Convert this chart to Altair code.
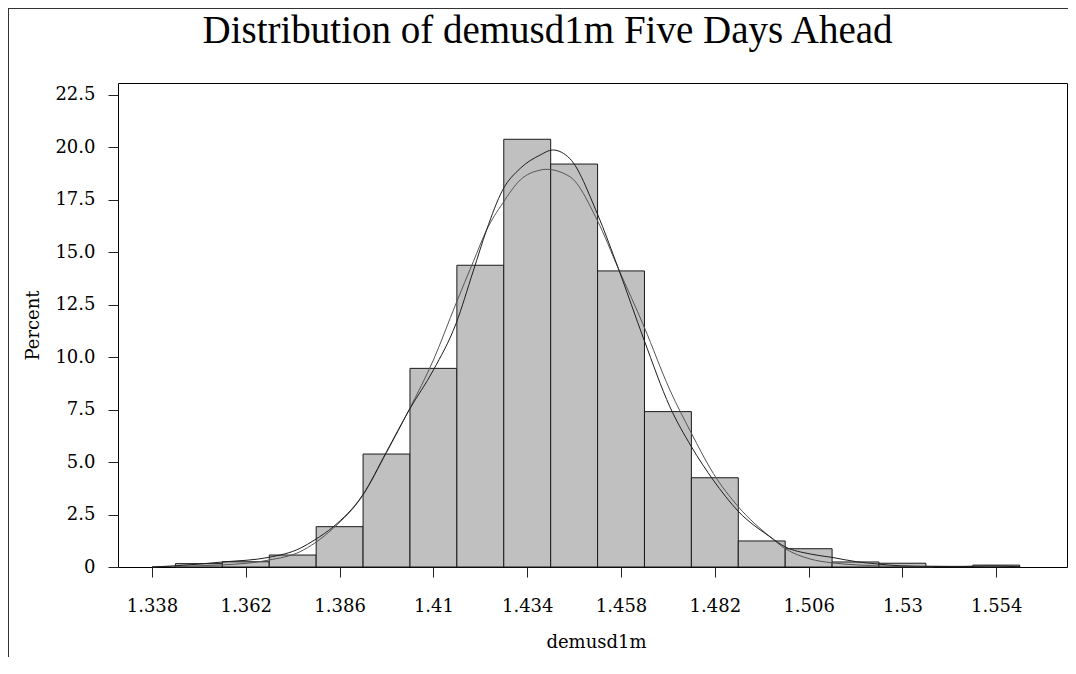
import altair as alt
import pandas as pd

# Histogram bins (demusd1m) and percent per bin
bin_lo = [1.344, 1.356, 1.368, 1.380, 1.392, 1.404, 1.416, 1.428, 1.440,
          1.452, 1.464, 1.476, 1.488, 1.500, 1.512, 1.524, 1.536, 1.548]
bin_hi = [1.356, 1.368, 1.380, 1.392, 1.404, 1.416, 1.428, 1.440, 1.452,
          1.464, 1.476, 1.488, 1.500, 1.512, 1.524, 1.536, 1.548, 1.560]
percent = [0.16, 0.25, 0.57, 1.92, 5.38, 9.46, 14.37, 20.37, 19.19,
           14.10, 7.40, 4.25, 1.24, 0.87, 0.24, 0.18, 0.03, 0.09]

# Kernel density curve (dark)
kde_x = [1.3380, 1.3434, 1.3562, 1.3679, 1.3759, 1.3797, 1.3844, 1.3919, 1.3980,
         1.4038, 1.4100, 1.4158, 1.4202, 1.4236, 1.4277, 1.4322, 1.4373, 1.4405,
         1.4449, 1.4519, 1.4573, 1.4639, 1.4705, 1.4760, 1.4816, 1.4880, 1.4961,
         1.4999, 1.5064, 1.5119, 1.5183, 1.5238, 1.5294, 1.5378, 1.5447, 1.5524, 1.5601]
kde_y = [0.00, 0.05, 0.24, 0.46, 0.89, 1.30, 1.92, 3.43, 5.49,
         7.48, 9.38, 11.60, 14.10, 16.05, 17.95, 18.98, 19.62, 19.86,
         19.45, 16.84, 14.22, 10.81, 7.63, 5.73, 4.14, 2.65, 1.44,
         0.97, 0.62, 0.46, 0.25, 0.14, 0.06, 0.03, 0.02, 0.05, 0.01]

# Normal curve (grey)
norm_x = [1.3380, 1.3434, 1.3562, 1.3679, 1.3759, 1.3797, 1.3844, 1.3919, 1.3980,
          1.4038, 1.4100, 1.4158, 1.4202, 1.4236, 1.4277, 1.4322, 1.4373, 1.4388,
          1.4449, 1.4519, 1.4573, 1.4639, 1.4705, 1.4760, 1.4816, 1.4880, 1.4961,
          1.4999, 1.5064, 1.5119, 1.5183, 1.5238, 1.5294, 1.5378]
norm_y = [0.01, 0.03, 0.10, 0.33, 0.73, 1.15, 1.85, 3.40, 5.45,
          7.50, 9.86, 12.56, 14.54, 16.05, 17.32, 18.43, 18.90, 18.94,
          18.59, 16.52, 14.22, 11.44, 8.43, 6.37, 4.46, 2.87, 1.44,
          0.89, 0.38, 0.20, 0.10, 0.05, 0.02, 0.01]

x_ticks = [1.338, 1.362, 1.386, 1.41, 1.434, 1.458, 1.482, 1.506, 1.53, 1.554]
y_ticks = [0, 2.5, 5, 7.5, 10, 12.5, 15, 17.5, 20, 22.5]

W, H = 949, 484
FONT = "DejaVu Serif"

hist_df = pd.DataFrame({"lo": bin_lo, "hi": bin_hi, "pct": percent})
kde_df = pd.DataFrame({"x": kde_x, "y": kde_y})
norm_df = pd.DataFrame({"x": norm_x, "y": norm_y})

xscale = alt.Scale(domain=[1.3293, 1.5721], nice=False, zero=False)
yscale = alt.Scale(domain=[0, 23.05], nice=False, zero=False)

xaxis = alt.Axis(
    title="demusd1m", values=x_ticks, labelExpr="format(datum.value, '.4~g')",
    grid=False, domain=False, tickSize=10, tickColor="#222", labelPadding=20,
    labelFont=FONT, labelFontSize=18, labelColor="black",
    titleFont=FONT, titleFontSize=18, titleFontWeight="normal", titleColor="black",
    titleX=478, titleY=80, titleBaseline="alphabetic", labelFlush=False,
)
yaxis = alt.Axis(
    title="Percent", values=y_ticks,
    labelExpr="datum.value == 0 ? '0' : format(datum.value, '.1f')",
    grid=False, domain=False, tickSize=10, tickColor="#222", labelPadding=13,
    labelFont=FONT, labelFontSize=18, labelColor="black",
    titleFont=FONT, titleFontSize=18, titleFontWeight="normal", titleColor="black",
    titleX=-85, titleY=H / 2, titleBaseline="middle", titleAngle=270,
)

bars = alt.Chart(hist_df).mark_rect(fill="#c0c0c0", stroke="#1a1a1a", strokeWidth=1).encode(
    x=alt.X("lo:Q", scale=xscale, axis=xaxis),
    x2="hi:Q",
    y=alt.Y("pct:Q", scale=yscale, axis=yaxis),
    y2=alt.datum(0),
)

norm_line = alt.Chart(norm_df).mark_line(color="#555555", strokeWidth=1, interpolate="monotone").encode(
    x=alt.X("x:Q", scale=xscale), y=alt.Y("y:Q", scale=yscale)
)
kde_line = alt.Chart(kde_df).mark_line(color="#1e1e1e", strokeWidth=1, interpolate="monotone").encode(
    x=alt.X("x:Q", scale=xscale), y=alt.Y("y:Q", scale=yscale)
)

one = pd.DataFrame({"k": [0]})
border_left = alt.Chart(one).mark_rule(color="#333", strokeWidth=1).encode(
    x=alt.value(-109.5), y=alt.value(-75), y2=alt.value(H + 90)
)
border_top = alt.Chart(one).mark_rule(color="#333", strokeWidth=1).encode(
    x=alt.value(-110), x2=alt.value(W + 1), y=alt.value(-74.5)
)

chart = alt.layer(bars, norm_line, kde_line, border_left, border_top).properties(
    width=W, height=H,
    title=alt.TitleParams(
        "Distribution of demusd1m Five Days Ahead",
        font="Liberation Serif", fontSize=39, fontWeight="normal", color="black",
        anchor="middle", offset=0, dx=-45, dy=74, baseline="alphabetic",
    ),
    autosize=alt.AutoSizeParams(type="none"),
    padding={"left": 110, "top": 75, "right": 1, "bottom": 90},
).configure(background="white").configure_view(stroke="black", strokeWidth=1)

chart.save("out.html", embed_options={"renderer": "svg", "actions": False})
